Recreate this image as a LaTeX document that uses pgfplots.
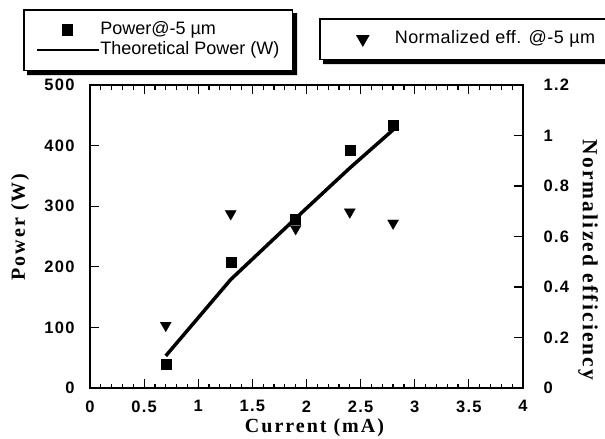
\documentclass[border=0pt]{standalone}
\usepackage{fontspec}
\setmainfont{Liberation Serif}
\setsansfont{Liberation Sans}
\newfontfamily\labelfont[LetterSpace=10]{Liberation Serif}
\newfontfamily\tickfont[LetterSpace=8]{Liberation Sans}
\newfontfamily\legBfont[LetterSpace=2.5]{Liberation Sans}
\usepackage{pgfplots}
\pgfplotsset{compat=1.18}

\newcommand\labfont{\labelfont\bfseries\fontsize{20}{24}\selectfont}

\pgfplotsset{
  markimage/.style={legend image code/.code={
      \draw[draw=none] (0pt,0pt) -- (62pt,0pt);
      \draw[##1] plot coordinates {(31pt,0pt)};}},
  chartbase/.style={
    scale only axis, width=433pt, height=303pt,
    xmin=0, xmax=4,
    axis line style={line width=1.6pt},
    tick style={line width=1.2pt, black},
    tick align=inside,
    major tick length=9pt, minor tick length=4.5pt,
    ticklabel style={font=\tickfont\bfseries\fontsize{16.5}{18}\selectfont},
    /pgf/number format/assume math mode=true,
    legend cell align=left,
    legend style={
      draw=black, line width=1.6pt, fill=white,
      font=\sffamily\fontsize{18}{20}\selectfont,
      inner xsep=12pt, inner ysep=11pt, row sep=1.5pt,
      nodes={inner sep=1pt, text height=12.5pt, text depth=4pt},
      /tikz/every even column/.append style={column sep=5pt},
    },
  }
}

% shadow strip to the right of and below a legend box
\newcommand\boxshadow[1]{%
  \fill[black]
    ([yshift=-4pt]#1.north east) -- ([shift={(4pt,-4pt)}]#1.north east)
    -- ([shift={(4pt,-4pt)}]#1.south east) -- ([shift={(4pt,-4pt)}]#1.south west)
    -- ([xshift=4pt]#1.south west) -- (#1.south east) -- cycle;}

\begin{document}
\begin{tikzpicture}
\path[use as bounding box] (-90pt,-51pt) rectangle (515pt,388pt);

% left axis: power
\begin{axis}[chartbase,
  ymin=0, ymax=500, ytick={0,100,...,500}, ytick pos=left,
  xtick={0,0.5,...,4}, minor x tick num=4, xtick pos=both,
  xticklabel style={yshift=-9pt},
  yticklabel style={xshift=-12pt},
  xlabel={Current (mA)},
  ylabel={Power (W)},
  every axis x label/.style={at={(axis description cs:0.5,0)}, anchor=center, xshift=8pt, yshift=-40pt, font=\labfont},
  every axis y label/.style={at={(axis description cs:0,0.5)}, anchor=center, xshift=-70pt, yshift=9.5pt, rotate=90, font=\labfont},
  legend style={at={(-0.1547,1.2508)}, anchor=north west, name=legA},
]
% theoretical curve first, so the measured squares sit on top of it
\addplot[black, line width=3.5pt, forget plot]
  coordinates {(0.7,53) (1.3,179) (1.9,280) (2.4,363) (2.8,426)};
\addplot[only marks, mark=square*, mark size=5pt, black, markimage]
  coordinates {(0.7,40) (1.3,207) (1.9,278) (2.4,392) (2.8,434)};
\addlegendentry{Power@-5 µm}
\addlegendimage{black, line width=1.5pt,
  legend image code/.code={\draw[black, line width=1.5pt] (0pt,0pt) -- (62pt,0pt);}}
\addlegendentry{Theoretical Power (W)}
\end{axis}

% right axis: normalized efficiency
\begin{axis}[chartbase, hide x axis,
  ymin=0, ymax=1.2, ytick={0,0.2,...,1.2}, ytick pos=right,
  yticklabel style={xshift=17pt},
  yticklabel pos=right,
  ylabel={Normalized efficiency},
  every axis y label/.style={at={(axis description cs:1,0.5)}, anchor=center, xshift=65pt, yshift=-23.5pt, rotate=-90,
    font=\labelfont\bfseries\fontsize{21.5}{24}\selectfont},
  legend style={at={(0.5289,1.2211)}, anchor=north west, name=legB,
    font=\legBfont\fontsize{18}{20}\selectfont,
    /tikz/every even column/.append style={column sep=8pt}},
]
\addplot[only marks, mark=triangle*, mark size=6.3pt, mark options={rotate=180}, black, markimage]
  coordinates {(0.7,0.248) (1.3,0.690) (1.9,0.631) (2.4,0.697) (2.8,0.653)};
\addlegendentry{Normalized eff. @-5 µm}
\end{axis}

\boxshadow{legA}
\boxshadow{legB}
\end{tikzpicture}
\end{document}
